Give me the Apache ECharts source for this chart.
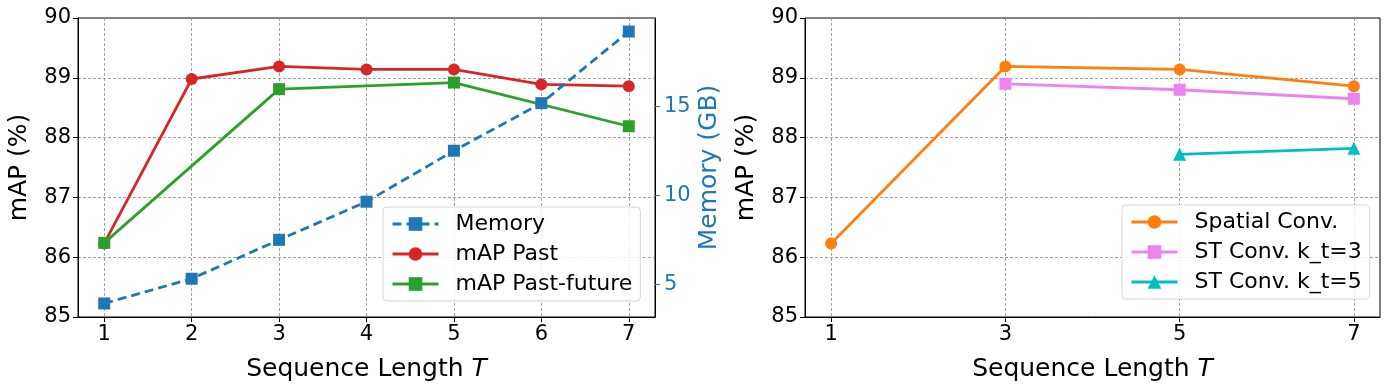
<!DOCTYPE html>
<html>
<head>
<meta charset="utf-8">
<script src="https://cdn.jsdelivr.net/npm/echarts@6/dist/echarts.min.js"></script>
<style>
  html, body { margin: 0; padding: 0; background: #fff; }
  #chart { width: 1389px; height: 390px; }
</style>
</head>
<body>
<div id="chart"></div>
<script>
// Left panel: sequence length vs mAP and memory
const tAll = [1, 2, 3, 4, 5, 6, 7];
const memoryGB = [3.95, 5.34, 7.52, 9.66, 12.52, 15.19, 19.21];
const mapPast = [86.23, 88.98, 89.19, 89.14, 89.14, 88.89, 88.86];
const tPastFuture = [1, 3, 5, 7];
const mapPastFuture = [86.24, 88.81, 88.92, 88.19];

// Right panel: spatial vs spatio-temporal conv
const tSpatial = [1, 3, 5, 7];
const spatialConv = [86.23, 89.19, 89.14, 88.86];
const tST3 = [3, 5, 7];
const stConvK3 = [88.90, 88.80, 88.65];
const tST5 = [5, 7];
const stConvK5 = [87.72, 87.82];

const leftXTicks = [1, 2, 3, 4, 5, 6, 7];
const rightXTicks = [1, 3, 5, 7];
const memTicks = [5, 10, 15];

const FONT = 'DejaVu Sans';
const pairs = (xs, ys) => xs.map((x, i) => [x, ys[i]]);

const chart = echarts.init(document.getElementById('chart'), null, { renderer: 'canvas' });

const gridLine = { show: true, lineStyle: { color: '#8a8a8a', width: 0.8, type: [3, 2] } };
const blackTick = { show: true, inside: false, length: 5, lineStyle: { color: '#000', width: 1 } };

function xAxisFor(gridIndex, ticks) {
    return {
        type: 'value', gridIndex: gridIndex, min: 0.7, max: 7.3,
        axisLine: { show: true, onZero: false, lineStyle: { color: '#000', width: 1 } },
        axisTick: Object.assign({ customValues: ticks }, blackTick),
        axisLabel: { customValues: ticks, color: '#000', fontSize: 21, fontFamily: FONT, margin: 7 },
        splitLine: gridLine,
        name: '{a|Sequence Length }{b|T}',
        nameLocation: 'middle', nameGap: 40,
        nameTextStyle: {
            rich: {
                a: { fontSize: 25, fontFamily: FONT, color: '#000' },
                b: { fontSize: 25, fontFamily: FONT, color: '#000', fontStyle: 'italic' }
            }
        }
    };
}

function mapAxisFor(gridIndex) {
    return {
        type: 'value', gridIndex: gridIndex, min: 85, max: 90, interval: 1,
        axisLine: { show: true, onZero: false, lineStyle: { color: '#000', width: 1 } },
        axisTick: blackTick,
        axisLabel: { color: '#000', fontSize: 21, fontFamily: FONT, margin: 7 },
        splitLine: gridLine,
        name: 'mAP (%)', nameLocation: 'middle', nameGap: 46, nameRotate: 90,
        nameTextStyle: { fontSize: 25, fontFamily: FONT, color: '#000' }
    };
}

function lineSeries(name, data, color, symbol, xi, yi, extra) {
    return Object.assign({
        name: name, type: 'line', xAxisIndex: xi, yAxisIndex: yi,
        data: data, symbol: symbol, symbolSize: 12,
        lineStyle: { color: color, width: 2.8 },
        itemStyle: { color: color },
        animation: false
    }, extra || {});
}

const legendBase = {
    orient: 'vertical',
    backgroundColor: 'rgba(255,255,255,0.85)',
    borderColor: '#d6d6d6', borderWidth: 1, borderRadius: 4,
    padding: [6, 8, 6, 8],
    itemWidth: 46, itemHeight: 17, itemGap: 8,
    lineStyle: { width: 3 },
    textStyle: { fontSize: 22, fontFamily: FONT, color: '#000', padding: [0, 0, 0, 12] }
};

const option = {
    backgroundColor: '#fff',
    animation: false,
    grid: [
        { left: 78, top: 18, width: 577, height: 299, show: true, borderColor: '#000', borderWidth: 1, containLabel: false },
        { left: 805, top: 18, width: 575, height: 299, show: true, borderColor: '#000', borderWidth: 1, containLabel: false }
    ],
    xAxis: [xAxisFor(0, leftXTicks), xAxisFor(1, rightXTicks)],
    yAxis: [
        mapAxisFor(0),
        {
            type: 'value', gridIndex: 0, position: 'right', min: 3.19, max: 19.97,
            axisLine: { show: true, onZero: false, lineStyle: { color: '#000', width: 1 } },
            axisTick: { show: true, customValues: memTicks, length: 5, lineStyle: { color: '#1f77b4', width: 1 } },
            axisLabel: { customValues: memTicks, color: '#1f77b4', fontSize: 21, fontFamily: FONT, margin: 9 },
            splitLine: { show: false },
            name: 'Memory (GB)', nameLocation: 'middle', nameGap: 42, nameRotate: 90,
            nameTextStyle: { fontSize: 25, fontFamily: FONT, color: '#1f77b4' }
        },
        mapAxisFor(1)
    ],
    legend: [
        Object.assign({}, legendBase, {
            left: 383, top: 207,
            data: ['Memory', 'mAP Past', 'mAP Past-future']
        }),
        Object.assign({}, legendBase, {
            left: 1122, top: 205,
            data: ['Spatial Conv.', 'ST Conv. k_t=3', 'ST Conv. k_t=5']
        })
    ],
    series: [
        lineSeries('mAP Past', pairs(tAll, mapPast), '#d62728', 'circle', 0, 0),
        lineSeries('mAP Past-future', pairs(tPastFuture, mapPastFuture), '#2ca02c', 'rect', 0, 0),
        lineSeries('Memory', pairs(tAll, memoryGB), '#1f77b4', 'rect', 0, 1, {
            lineStyle: { color: '#1f77b4', width: 2.8, type: [9, 5] }, z: 3
        }),
        lineSeries('Spatial Conv.', pairs(tSpatial, spatialConv), '#ff7f0e', 'circle', 1, 2),
        lineSeries('ST Conv. k_t=3', pairs(tST3, stConvK3), '#ee82ee', 'rect', 1, 2),
        lineSeries('ST Conv. k_t=5', pairs(tST5, stConvK5), '#00bfbf', 'triangle', 1, 2, { symbolSize: 13 })
    ]
};

chart.setOption(option);
</script>
</body>
</html>
